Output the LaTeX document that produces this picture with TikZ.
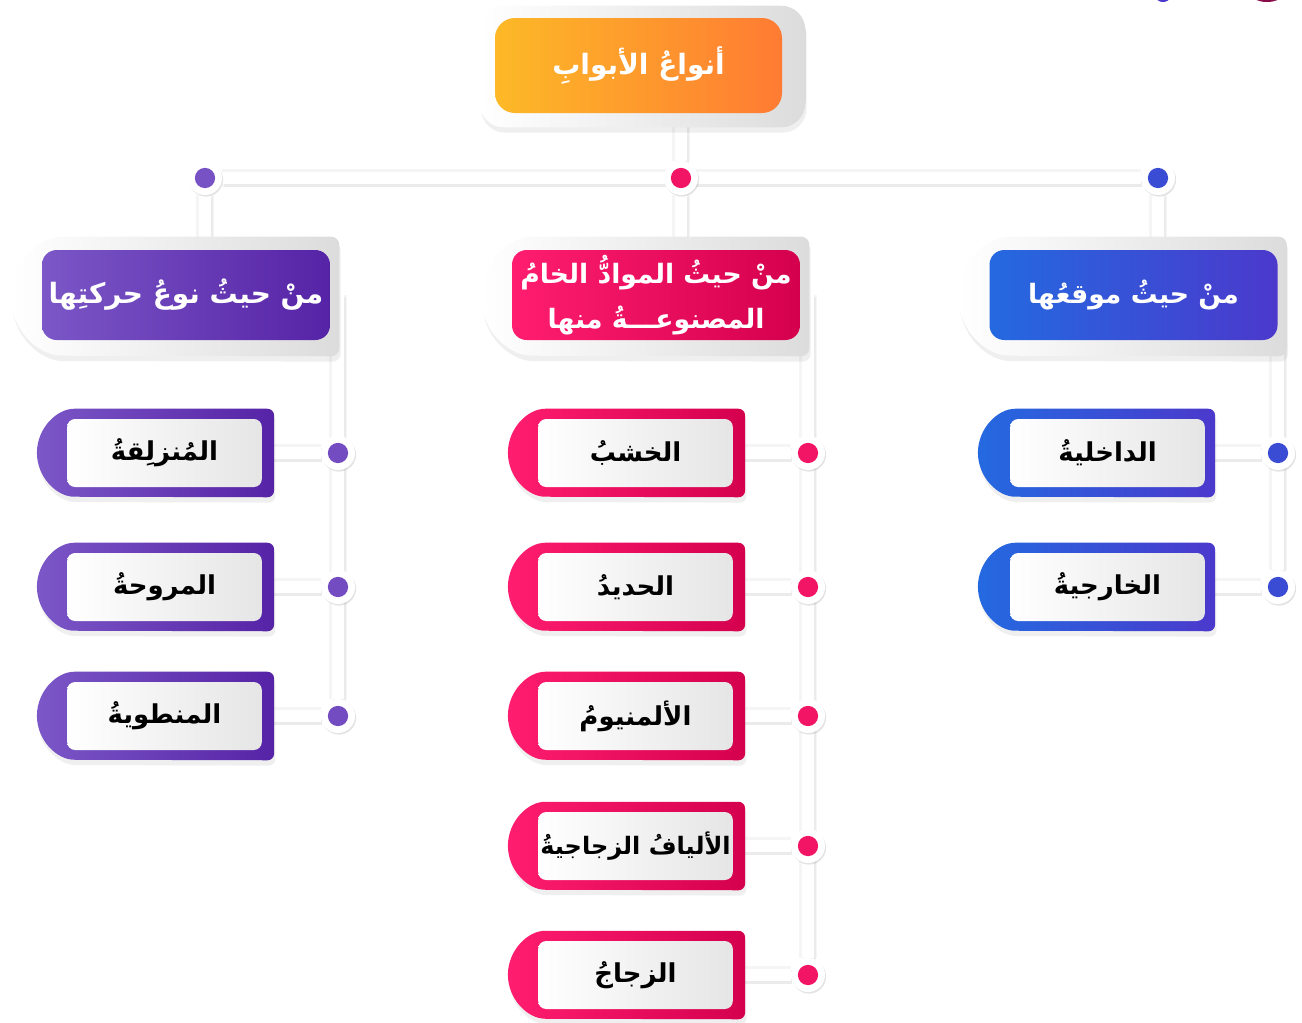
\documentclass[tikz,border=0pt]{standalone}
\usepackage{fontspec}
\newfontfamily\arabicfont[Script=Arabic]{DejaVu Sans}
\TeXXeTstate=1
\usetikzlibrary{calc,shadows,backgrounds}

\definecolor{purA}{HTML}{7B57C7}
\definecolor{purB}{HTML}{5623A6}
\definecolor{redA}{HTML}{FF1D6F}
\definecolor{redB}{HTML}{D4004E}
\definecolor{bluA}{HTML}{2469E0}
\definecolor{bluB}{HTML}{4B39CC}
\definecolor{oraA}{HTML}{FDB927}
\definecolor{oraB}{HTML}{FF7B33}
\definecolor{cardgrey}{HTML}{DCDCDC}
\definecolor{maroon}{HTML}{8A0B4A}

\newcommand{\artext}[1]{{\arabicfont\bfseries\beginR #1\endR}}
% tab outline round a node: node, left, right, top, bottom, radius
\newcommand{\tabpath}[6]{($(#1.east)+(#3,0)$) -- ($(#1.north east)+(#3,-#4)$) -- ($(#1.north west)+(#6-#2,-#4)$) arc[start angle=270,end angle=90,radius=#6] -- ($(#1.south east)+(#3,#5)$) -- cycle}

\tikzset{
  softshadow/.style={drop shadow={opacity=0.13, shadow xshift=1pt, shadow yshift=-4pt}},
  card/.style={left color=white, right color=cardgrey, softshadow},
  headbox/.style={rounded corners=11pt, minimum width=216pt, minimum height=67.5pt, inner sep=0pt,
    text=white, align=center, font=\fontsize{20}{34}\selectfont},
  leafbox/.style={rounded corners=6pt, minimum width=146pt, minimum height=51pt, inner sep=0pt,
    left color=white, right color=black!10, text=black, font=\fontsize{19.5}{24}\selectfont},
  joint/.style={circle, fill=white, minimum size=25.5pt, inner sep=0pt,
    drop shadow={opacity=0.22, shadow xshift=0.8pt, shadow yshift=-1.2pt},
    path picture={\fill[#1] (path picture bounding box.center) circle[radius=7.6pt];}},
  linkline/.style={line width=9pt, white,
    preaction={draw=black!4, line width=13pt},
    preaction={draw=black!8, line width=10pt, transform canvas={shift={(1pt,-1.6pt)}}}}
}

\begin{document}
\begin{tikzpicture}[x=0.75pt,y=-0.75pt]
\useasboundingbox (0,0) rectangle (1302,1022);

%Shape: clipped marks, top right
\fill[bluB] (1163,-3) ellipse (7 and 5);
\fill[maroon] (1267,-4) ellipse (14 and 6);

% Text Node: title
\node[headbox, minimum width=215.25pt, minimum height=71.25pt, rounded corners=15pt,
  left color=oraA, right color=oraB, font=\fontsize{21}{27}\selectfont] (top) at (638.5,65.5) {\artext{أنواعُ الأبوابِ}};

% Text Node: group heads
\node[headbox, left color=purA, right color=purB, font=\fontsize{21}{27}\selectfont] (hL) at (186,295) {\artext{منْ حيثُ نوعُ حركتِها}};
\node[headbox, left color=redA, right color=redB] (hM) at (656,295) {\artext{منْ حيثُ الموادُّ الخامُ}\\\artext{المصنوعـــةُ منها}};
\node[headbox, left color=bluA, right color=bluB] (hR) at (1133.5,295) {\artext{منْ حيثُ موقعُها}};

% Text Node: leaves
\node[leafbox] (lL1) at (164.5,453) {\artext{المُنزلِقةُ}};
\node[leafbox] (lL2) at (164.5,587) {\artext{المروحةُ}};
\node[leafbox] (lL3) at (164.5,716) {\artext{المنطويةُ}};
\node[leafbox] (lM1) at (635.5,453) {\artext{الخشبُ}};
\node[leafbox] (lM2) at (635.5,587) {\artext{الحديدُ}};
\node[leafbox] (lM3) at (635.5,716) {\artext{الألمنيومُ}};
\node[leafbox, font=\fontsize{18}{24}\selectfont] (lM4) at (635.5,846) {\artext{الأليافُ الزجاجيةُ}};
\node[leafbox] (lM5) at (635.5,975) {\artext{الزجاجُ}};
\node[leafbox] (lR1) at (1107.5,453) {\artext{الداخليةُ}};
\node[leafbox] (lR2) at (1107.5,587) {\artext{الخارجيةُ}};

%Shape: joints
\node[joint=purA!90!purB] (jTL) at (205,178) {};
\node[joint=redA!70!redB] (jTM) at (681,178) {};
\node[joint=bluA!40!bluB] (jTR) at (1158,178) {};
\node[joint=purA!80!purB] (jL1) at (338,453) {};
\node[joint=purA!80!purB] (jL2) at (338,587) {};
\node[joint=purA!80!purB] (jL3) at (338,716) {};
\node[joint=redA!70!redB] (jM1) at (808,453) {};
\node[joint=redA!70!redB] (jM2) at (808,587) {};
\node[joint=redA!70!redB] (jM3) at (808,716) {};
\node[joint=redA!70!redB] (jM4) at (808,846) {};
\node[joint=redA!70!redB] (jM5) at (808,975) {};
\node[joint=bluA!40!bluB] (jR1) at (1278,453) {};
\node[joint=bluA!40!bluB] (jR2) at (1278,587) {};

\begin{scope}[on background layer]
%Straight Lines: connectors
\draw[linkline] (jTM |- top.south) -- (jTM)
  (jTL) -- (jTR)
  (jTL) -- (jTL |- hL.north)
  (jTM) -- (jTM |- hM.north)
  (jTR) -- (jTR |- hR.north)
  (jL3 |- hL.center) -- (jL3)
  (jM5 |- hM.center) -- (jM5)
  (jR2 |- hR.center) -- (jR2)
  foreach \n in {L1,L2,L3,M1,M2,M3,M4,M5,R1,R2} {(l\n) -- (j\n)};

%Shape: cards
\shade[card, rounded corners=18pt] ($(top.north west)+(-15,-12)$) rectangle ($(top.south east)+(23,14)$);
\foreach \n in {hL,hM,hR}
  \shade[card, rounded corners=6pt] \tabpath{\n}{31}{9}{13}{16}{59.5};
\foreach \n in {L1,L2,L3}
  \shade[left color=purA, right color=purB, softshadow, rounded corners=5pt] \tabpath{l\n}{30}{12}{10}{10}{44};
\foreach \n in {M1,M2,M3,M4,M5}
  \shade[left color=redA, right color=redB, softshadow, rounded corners=5pt] \tabpath{l\n}{30}{12}{10}{10}{44};
\foreach \n in {R1,R2}
  \shade[left color=bluA, right color=bluB, softshadow, rounded corners=5pt] \tabpath{l\n}{32}{10}{10}{10}{44};
\end{scope}

\end{tikzpicture}
\end{document}
